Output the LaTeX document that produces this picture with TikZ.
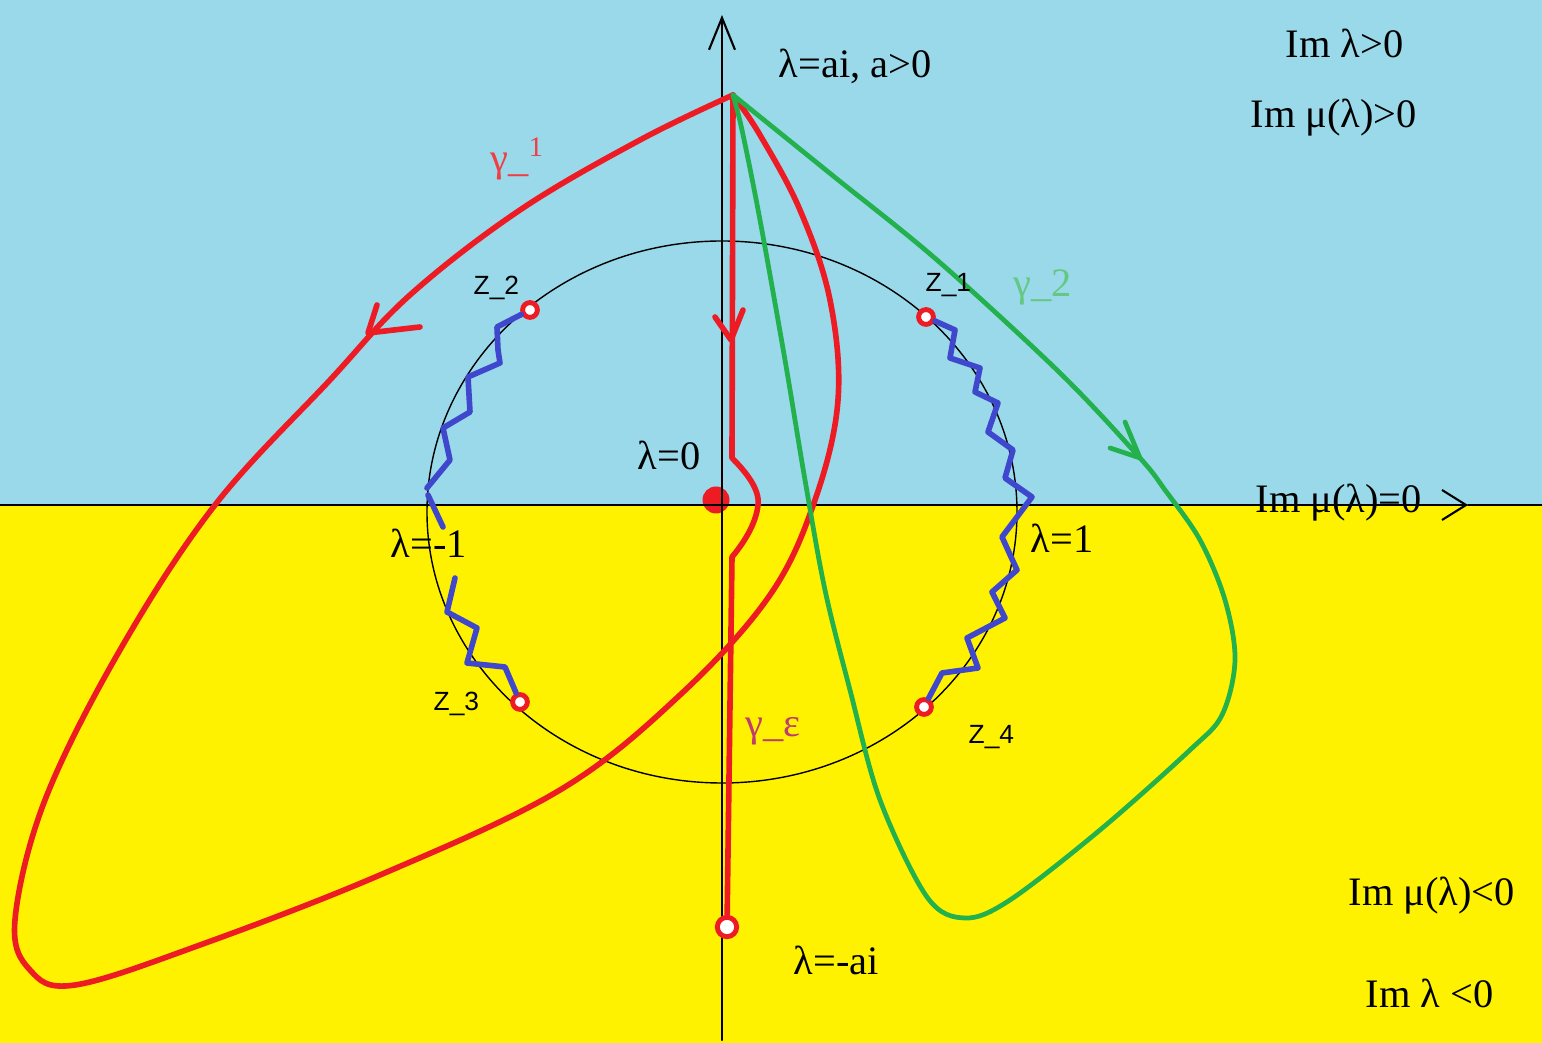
\documentclass[tikz,border=0pt]{standalone}
\usepackage{fontspec}
\setmainfont{Liberation Serif}
\newfontfamily\sansZ{Liberation Sans}
\usetikzlibrary{arrows.meta}

\definecolor{cielo}{RGB}{153,217,234}
\definecolor{giallo}{RGB}{255,242,0}
\definecolor{rosso}{RGB}{237,28,36}
\definecolor{verde}{RGB}{34,177,76}
\definecolor{blu}{RGB}{63,72,204}
\definecolor{viola}{RGB}{190,60,110}

\begin{document}
\begin{tikzpicture}[x=1cm,y=1cm,line join=round,line cap=round,
    font=\fontsize{11.5}{13}\selectfont,
    asse/.style={line width=0.6pt},
    cerchio/.style={line width=0.4pt},
    curvar/.style={line width=1.6pt,rosso},
    curvav/.style={line width=1.35pt,verde},
    zigzag/.style={line width=1.6pt,blu},
    punto/.style={circle,draw=rosso,line width=1.4pt,fill=white,
                  inner sep=0pt,minimum size=4.2pt},
    etich/.style={anchor=base west,inner sep=0pt},
    etichz/.style={etich,font=\sansZ\fontsize{7.5}{8}\selectfont}]

  \useasboundingbox (-7.22,-5.38) rectangle (8.20,5.05);

  % sfondo: semipiano superiore e inferiore
  \fill[cielo]  (-7.22,0) rectangle (8.20,5.05);
  \fill[giallo] (-7.22,-5.38) rectangle (8.20,0);

  % ---- cerchio unitario ----------------------------------------------------
  \draw[cerchio] (0,-0.07) ellipse [x radius=2.95,y radius=2.71];

  \node[circle,fill=rosso,inner sep=0pt,minimum size=0.27cm] (O) at (-0.06,0.05) {};

  % ---- assi ----------------------------------------------------------------
  \draw[asse,-{Straight Barb[length=3.2mm,width=2.6mm]}] (0,-5.35) -- (0,4.90);
  \draw[asse,-{Straight Barb[length=2.4mm,width=3.0mm]}] (-7.22,0) -- (7.46,0);
  \draw[asse] (7.46,0) -- (8.20,0);

  % ---- tagli a zig-zag ------------------------------------------------------
  \node[punto] (Z1) at (2.04,1.88) {};
  \node[punto] (Z2) at (-1.92,1.95) {};
  \node[punto] (Z3) at (-2.02,-1.97) {};
  \node[punto] (Z4) at (2.02,-2.02) {};

  \draw[zigzag] (Z2) -- (-2.25,1.78) -- (-2.24,1.55) -- (-2.22,1.42)
        -- (-2.54,1.28) -- (-2.52,0.93) -- (-2.79,0.77) -- (-2.72,0.45)
        -- (-2.95,0.17);
  \draw[zigzag] (-2.94,0.10) -- (-2.79,-0.22);
  \draw[zigzag] (-2.67,-0.73) -- (-2.75,-1.07) -- (-2.45,-1.23)
        -- (-2.55,-1.58) -- (-2.17,-1.62) -- (Z3);
  \draw[zigzag] (Z1) -- (2.33,1.75) -- (2.28,1.47) -- (2.58,1.37)
        -- (2.53,1.13) -- (2.76,1.02) -- (2.66,0.73) -- (2.91,0.55)
        -- (2.83,0.27) -- (3.10,0.08) -- (2.80,-0.32) -- (2.95,-0.65)
        -- (2.70,-0.87) -- (2.83,-1.13) -- (2.45,-1.33) -- (2.56,-1.63)
        -- (2.20,-1.68) -- (Z4);

  % ---- i cammini -----------------------------------------------------------
  \coordinate (A) at (0.11,4.10);
  \node[punto,minimum size=5.5pt] (L) at (0.05,-4.22) {};

  % gamma_1
  \draw[curvar] plot[smooth,tension=0.6] coordinates {
      (A) (-0.82,3.65) (-2.02,2.95) (-3.12,2.10) (-3.92,1.25) (-5.07,0)
      (-6.02,-1.45) (-6.77,-2.95) (-7.07,-4.15) (-6.92,-4.65) (-6.47,-4.80)
      (-5.22,-4.40) (-3.42,-3.70) (-1.62,-2.85) (-0.42,-1.90) (0.48,-0.90)
      (0.93,0.05) (1.16,1.05) (1.08,2.05) (0.78,2.95) (0.38,3.70) (A)};
  \draw[curvar] (-3.45,2.00) -- (-3.54,1.72) -- (-3.02,1.78);

  % gamma_eps: scende lungo l'asse e aggira lambda=0
  \draw[curvar] (A) -- (0.10,0.47) .. controls (0.25,0.32) and (0.38,0.15) .. (0.36,0)
        .. controls (0.34,-0.20) and (0.20,-0.40) .. (0.10,-0.52) -- (L);
  \draw[curvar] (-0.07,1.88) -- (0.09,1.65) -- (0.21,1.95);

  % gamma_2
  \draw[curvav] plot[smooth,tension=0.55] coordinates {
      (A) (1.10,3.30) (2.15,2.45) (3.38,1.32) (4.18,0.47) (4.43,0.15)
      (4.78,-0.35) (5.03,-0.95) (5.13,-1.55) (5.00,-2.10) (4.68,-2.45)
      (3.78,-3.25) (2.88,-3.95) (2.43,-4.13) (2.05,-3.92) (1.58,-2.95)
      (1.28,-1.85) (1.03,-0.85) (0.83,0.25) (0.63,1.45) (0.38,2.85)
      (0.20,3.75) (A)};
  \draw[curvav] (4.03,0.83) -- (4.18,0.47) -- (3.88,0.57);

  % ---- etichette -----------------------------------------------------------
  \node[etich] (ta)  at (0.56,4.27)   {λ=ai, a>0};
  \node[etich] (tu1) at (5.63,4.47)   {Im λ>0};
  \node[etich] (tu2) at (5.28,3.77)   {Im μ(λ)>0};
  \node[etich] (t0)  at (-0.85,0.35)  {λ=0};
  \node[etich] (tm1) at (-3.32,-0.53) {λ=-1};
  \node[etich] (tp1) at (3.08,-0.48)  {λ=1};
  \node[etich] (tmu) at (5.33,-0.08)  {Im μ(λ)=0};
  \node[etich] (tb)  at (0.71,-4.70)  {λ=-ai};
  \node[etich] (td1) at (6.26,-4.01)  {Im μ(λ)<0};
  \node[etich] (td2) at (6.43,-5.03)  {Im λ <0};

  \node[etichz] (n1) at (2.03,2.13)   {Z\_1};
  \node[etichz] (n2) at (-2.49,2.10)  {Z\_2};
  \node[etichz] (n3) at (-2.89,-2.06) {Z\_3};
  \node[etichz] (n4) at (2.46,-2.39)  {Z\_4};

  \node[etich,text=rosso!85]  (g1) at (-2.32,3.33) {γ\_\textsuperscript{1}};
  \node[etich,text=verde!70]  (g2) at (2.91,2.08)  {γ\_2};
  \node[etich,text=viola]     (ge) at (0.23,-2.32) {γ\_ε};

\end{tikzpicture}
\end{document}
